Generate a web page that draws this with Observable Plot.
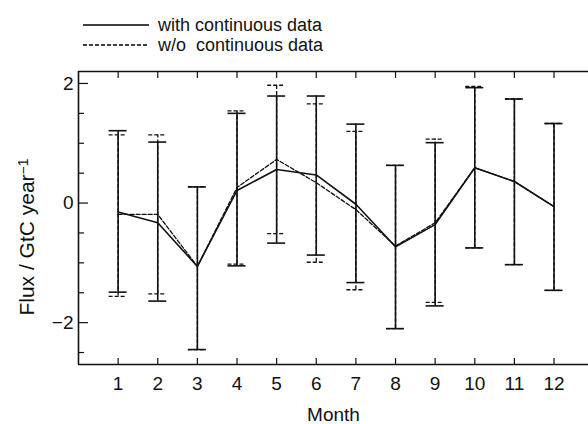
<!DOCTYPE html>
<html>
<head>
<meta charset="utf-8">
<script src="https://cdn.jsdelivr.net/npm/d3@7"></script>
<script src="https://cdn.jsdelivr.net/npm/@observablehq/plot@0.6"></script>
<style>
  html, body { margin: 0; padding: 0; background: #fff; }
  #chart { width: 588px; }
  svg { display: block; }
</style>
</head>
<body>
<div id="chart"></div>
<script>
// ---- data ----
const months = [1, 2, 3, 4, 5, 6, 7, 8, 9, 10, 11, 12];
const withMean = [-0.15, -0.33, -1.06, 0.21, 0.56, 0.47, -0.02, -0.73, -0.36, 0.59, 0.36, -0.06];
const withHi   = [1.21, 1.02, 0.27, 1.50, 1.79, 1.79, 1.32, 0.63, 1.01, 1.93, 1.74, 1.33];
const withLo   = [-1.49, -1.64, -2.45, -1.05, -0.67, -0.87, -1.33, -2.10, -1.72, -0.75, -1.03, -1.46];
const woMean   = [-0.19, -0.19, -1.06, 0.26, 0.73, 0.34, -0.11, -0.72, -0.33, 0.59, 0.36, -0.06];
const woHi     = [1.14, 1.14, 0.27, 1.54, 1.97, 1.66, 1.20, 0.63, 1.07, 1.95, 1.74, 1.33];
const woLo     = [-1.56, -1.52, -2.45, -1.02, -0.51, -0.99, -1.45, -2.10, -1.66, -0.75, -1.03, -1.46];
const seriesNames = ["with continuous data", "w/o  continuous data"];
const yTickLabels = [-2, 0, 2];
const yMinorTicks = [-2.5, -1.5, -1, -0.5, 0.5, 1, 1.5];
const xLabel = "Month";
const yLabel = "Flux / GtC year";
const yLabelSup = "\u22121";

// ---- layout ----
const W = 588, H = 364, mt = 11, mb = 60, ml = 78, mr = 0;
const xDom = [0, 12.87], yDom = [-2.7, 2.2];
const xPerPx = (xDom[1] - xDom[0]) / (W - ml - mr);
const yPerPx = (yDom[1] - yDom[0]) / (H - mt - mb);
const font = "'Liberation Sans', Arial, Helvetica, sans-serif";

const rows = months.map((m, i) => ({
  m, wm: withMean[i], wh: withHi[i], wl: withLo[i],
  dm: woMean[i], dh: woHi[i], dl: woLo[i]
}));

// ---- legend (above the plot) ----
const legend = d3.create("svg").attr("width", W).attr("height", 60)
  .style("font-family", font).style("font-size", "18px");
[["none", 25], ["4,2", 45]].forEach(([dash, y], i) => {
  legend.append("line").attr("x1", 83).attr("x2", 149).attr("y1", y).attr("y2", y)
    .attr("stroke", "#000").attr("stroke-width", 1.3)
    .attr("stroke-dasharray", dash);
  legend.append("text").attr("x", 158).attr("y", y).attr("dy", "0.36em")
    .attr("fill", "#111").style("white-space", "pre").text(seriesNames[i]);
});
document.getElementById("chart").append(legend.node());

const capW = 9 * xPerPx;
const fmtY = d => (d < 0 ? "\u2212" + (-d) : String(d));
const chart = Plot.plot({
  width: W, height: H,
  marginTop: mt, marginBottom: mb, marginLeft: ml, marginRight: mr,
  style: { fontFamily: font, fontSize: "19px", color: "#111", background: "#fff" },
  x: { domain: xDom, axis: null },
  y: { domain: yDom, axis: null },
  marks: [
    // frame: left, top, bottom
    Plot.ruleX([xDom[0]], { strokeWidth: 1.6 }),
    Plot.ruleY([yDom[1]], { strokeWidth: 1.6 }),
    Plot.ruleY([yDom[0]], { strokeWidth: 1.6 }),
    // inward ticks
    Plot.ruleX(months, { x: d => d, y1: yDom[0], y2: yDom[0] + 6 * yPerPx, strokeWidth: 1.2 }),
    Plot.ruleX(months, { x: d => d, y1: yDom[1], y2: yDom[1] - 7 * yPerPx, strokeWidth: 1.2 }),
    Plot.ruleY(yTickLabels, { y: d => d, x1: xDom[0], x2: xDom[0] + 10 * xPerPx, strokeWidth: 1.2 }),
    Plot.ruleY(yMinorTicks, { y: d => d, x1: xDom[0], x2: xDom[0] + 6 * xPerPx, strokeWidth: 1.2 }),
    // tick labels
    Plot.axisX({ ticks: months, tickSize: 0, tickPadding: 12, tickFormat: d => String(d), fontSize: 19, label: null }),
    Plot.axisY({ ticks: yTickLabels, tickSize: 0, tickPadding: 5, tickFormat: fmtY, fontSize: 19, label: null }),
    // w/o continuous data (dashed)
    Plot.ruleX(rows, { x: "m", y1: "dl", y2: "dh", strokeWidth: 1.3, strokeDasharray: "4,2" }),
    Plot.ruleY(rows, { y: "dh", x1: d => d.m - capW, x2: d => d.m + capW, strokeWidth: 1.3, strokeDasharray: "4,2" }),
    Plot.ruleY(rows, { y: "dl", x1: d => d.m - capW, x2: d => d.m + capW, strokeWidth: 1.3, strokeDasharray: "4,2" }),
    Plot.line(rows, { x: "m", y: "dm", strokeWidth: 1.3, strokeDasharray: "4,2" }),
    // with continuous data (solid)
    Plot.ruleX(rows, { x: "m", y1: "wl", y2: "wh", strokeWidth: 1.6 }),
    Plot.ruleY(rows, { y: "wh", x1: d => d.m - capW, x2: d => d.m + capW, strokeWidth: 1.6 }),
    Plot.ruleY(rows, { y: "wl", x1: d => d.m - capW, x2: d => d.m + capW, strokeWidth: 1.6 }),
    Plot.line(rows, { x: "m", y: "wm", strokeWidth: 1.6 }),
    // axis titles
    Plot.text([xLabel], { text: d => d, frameAnchor: "bottom", lineAnchor: "middle", textAnchor: "middle", dy: 50, fontSize: 19, fill: "#111" }),
    Plot.text([yLabel], { text: d => d, frameAnchor: "left", textAnchor: "middle", lineAnchor: "middle", rotate: -90, dx: -51, dy: 19, fontSize: 21, fill: "#111" })
  ]
});

// superscript on the y label
const yl = [...chart.querySelectorAll("text")].find(t => t.textContent === yLabel);
if (yl) {
  const ts = document.createElementNS("http://www.w3.org/2000/svg", "tspan");
  ts.setAttribute("dy", "-0.45em");
  ts.setAttribute("font-size", "14");
  ts.textContent = yLabelSup;
  yl.appendChild(ts);
}
document.getElementById("chart").append(chart);
</script>
</body>
</html>
